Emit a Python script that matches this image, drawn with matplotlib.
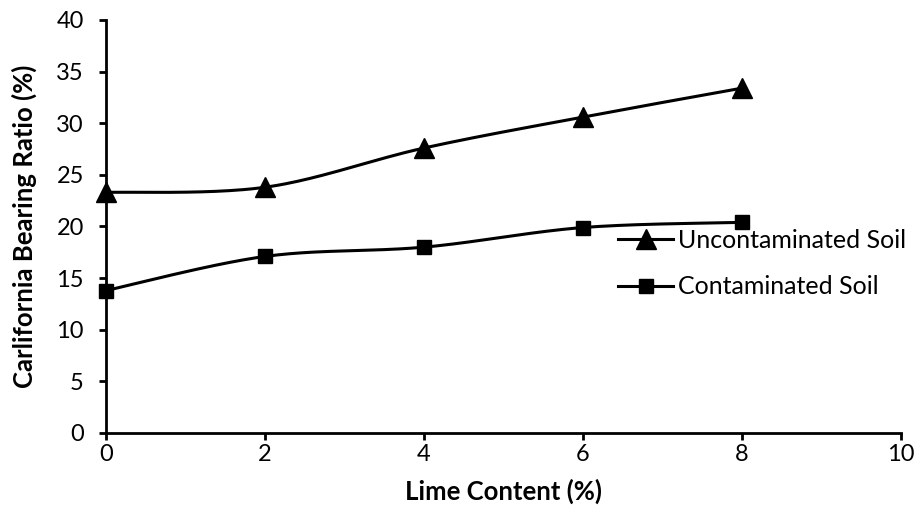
import numpy as np
import matplotlib.pyplot as plt

# lime content (%) and CBR values (%)
lime = [0, 2, 4, 6, 8]
cbr_uncont = [23.3, 23.8, 27.6, 30.6, 33.4]
cbr_cont = [13.8, 17.1, 18.0, 19.9, 20.4]
series_names = ['Uncontaminated Soil', 'Contaminated Soil']

plt.rcParams['font.family'] = ['Lato', 'DejaVu Sans']


def smooth_curve(x, y, n=40):
    # excel-like smoothing: cubic bezier with catmull-rom control points
    x = np.asarray(x, float)
    y = np.asarray(y, float)
    px, py = [], []
    for i in range(len(x) - 1):
        x0, y0 = (x[i - 1], y[i - 1]) if i > 0 else (x[i], y[i])
        x3, y3 = (x[i + 2], y[i + 2]) if i + 2 < len(x) else (x[i + 1], y[i + 1])
        c1x = x[i] + (x[i + 1] - x0) / 6.0
        c1y = y[i] + (y[i + 1] - y0) / 6.0
        c2x = x[i + 1] - (x3 - x[i]) / 6.0
        c2y = y[i + 1] - (y3 - y[i]) / 6.0
        t = np.linspace(0, 1, n)
        px.append((1 - t)**3 * x[i] + 3 * (1 - t)**2 * t * c1x + 3 * (1 - t) * t**2 * c2x + t**3 * x[i + 1])
        py.append((1 - t)**3 * y[i] + 3 * (1 - t)**2 * t * c1y + 3 * (1 - t) * t**2 * c2y + t**3 * y[i + 1])
    return np.concatenate(px), np.concatenate(py)


fig = plt.figure(figsize=(9.17, 5.22), dpi=100)
ax = fig.add_axes([0.1156, 0.1705, 0.8669, 0.7912])

for vals, mk, ms, name in [(cbr_uncont, '^', 14, series_names[0]),
                           (cbr_cont, 's', 9.5, series_names[1])]:
    sx, sy = smooth_curve(lime, vals)
    ax.plot(sx, sy, color='black', lw=2.2, zorder=2)
    ax.plot(lime, vals, linestyle='none', marker=mk, ms=ms, color='black',
            clip_on=False, zorder=3)
    ax.plot([], [], color='black', lw=2.2, marker=mk, ms=ms, label=name)

ax.set_xlim(0, 10)
ax.set_ylim(0, 40)
ax.set_xticks(range(0, 11, 2))
ax.set_yticks(range(0, 41, 5))
for s in ['top', 'right']:
    ax.spines[s].set_visible(False)
for s in ['left', 'bottom']:
    ax.spines[s].set_linewidth(2.0)
ax.tick_params(direction='out', length=5, width=2.0, labelsize=17)
ax.tick_params(axis='y', pad=11)
ax.tick_params(axis='x', pad=3)
ax.set_xlabel('Lime Content (%)', fontsize=18.5, fontweight='bold', labelpad=10)
ax.set_ylabel('Carlifornia Bearing Ratio (%)', fontsize=18.5, fontweight='bold', labelpad=14)

fig.legend(loc='center left', bbox_to_anchor=(0.674, 0.495), frameon=False,
           fontsize=18, handlelength=2.2, handletextpad=0.2, labelspacing=0.95,
           borderpad=0, borderaxespad=0)

fig.savefig('out.png', dpi=100)
